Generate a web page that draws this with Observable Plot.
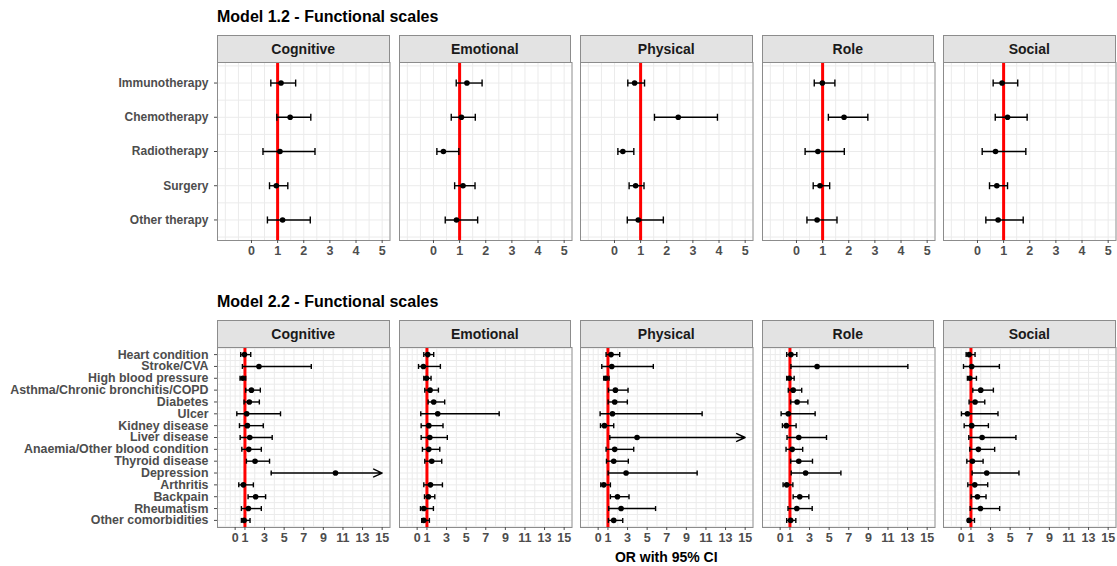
<!DOCTYPE html>
<html><head><meta charset="utf-8">
<script src="https://cdn.jsdelivr.net/npm/d3@7"></script>
<script src="https://cdn.jsdelivr.net/npm/@observablehq/plot@0.6"></script>
<style>
body{margin:0;background:#fff;font-family:"Liberation Sans",Arial,sans-serif;}
#chart{position:relative;width:1117px;height:566px;overflow:hidden;background:#fff;}
.title{position:absolute;font-weight:bold;font-size:16px;color:#000;white-space:nowrap;}
.xtitle{position:absolute;font-weight:bold;font-size:14px;color:#000;white-space:nowrap;}
.strip{position:absolute;box-sizing:border-box;background:#e3e3e3;border:1px solid #8c8c8c;font-weight:bold;font-size:14px;color:#1a1a1a;display:flex;align-items:center;justify-content:center;}
.panel{position:absolute;}
</style></head><body><div id="chart"></div><script>
// ---- data ----
const scales = ["Cognitive", "Emotional", "Physical", "Role", "Social"];
const treatments = ["Immunotherapy", "Chemotherapy", "Radiotherapy", "Surgery", "Other therapy"];
const comorbidities = ["Heart condition", "Stroke/CVA", "High blood pressure", "Asthma/Chronic bronchitis/COPD", "Diabetes", "Ulcer", "Kidney disease", "Liver disease", "Anaemia/Other blood condition", "Thyroid disease", "Depression", "Arthritis", "Backpain", "Rheumatism", "Other comorbidities"];
const topTicks = [0, 1, 2, 3, 4, 5];
const bottomTicks = [0, 1, 3, 5, 7, 9, 11, 13, 15];

// rows: [OR, lower 95% CI, upper 95% CI]
const m1Cognitive = [[1.13,0.74,1.69],[1.48,0.97,2.27],[1.09,0.44,2.43],[0.95,0.69,1.39],[1.19,0.61,2.25]];
const m1Emotional = [[1.28,0.87,1.86],[1.07,0.68,1.60],[0.38,0.13,0.97],[1.13,0.81,1.59],[0.88,0.45,1.69]];
const m1Physical  = [[0.77,0.51,1.15],[2.44,1.53,3.94],[0.32,0.13,0.74],[0.81,0.56,1.13],[0.91,0.49,1.87]];
const m1Role      = [[0.99,0.68,1.47],[1.82,1.22,2.73],[0.82,0.33,1.83],[0.90,0.64,1.27],[0.79,0.40,1.55]];
const m1Social    = [[0.94,0.60,1.54],[1.15,0.68,1.90],[0.69,0.18,1.85],[0.74,0.46,1.15],[0.79,0.32,1.75]];

const m2Cognitive = [[0.95,0.57,1.59],[2.43,0.74,7.77],[0.78,0.50,1.08],[1.66,1.08,2.57],[1.45,0.91,2.47],[1.18,0.17,4.63],[1.25,0.44,2.87],[1.49,0.51,3.78],[1.39,0.68,2.67],[2.03,1.15,3.51],[10.24,3.68,17.5],[0.84,0.37,1.86],[2.09,1.32,3.11],[1.35,0.64,2.67],[0.91,0.64,1.52]];
const m2Emotional = [[1.08,0.68,1.69],[0.64,0.14,2.37],[0.95,0.68,1.42],[1.32,0.78,2.17],[1.69,1.12,2.81],[2.10,0.37,8.37],[1.19,0.41,2.64],[1.29,0.41,3.08],[1.19,0.54,2.31],[1.49,0.78,2.51],null,[1.36,0.68,2.58],[1.15,0.75,1.80],[0.68,0.34,1.66],[0.68,0.47,1.25]];
const m2Physical  = [[1.32,0.81,2.20],[1.39,0.37,5.63],[0.78,0.58,1.12],[1.76,1.05,3.05],[1.69,1.02,2.98],[1.46,0.20,10.61],[0.64,0.24,1.59],[3.97,1.19,16.5],[1.69,0.81,3.63],[1.59,0.85,3.08],[2.85,1.02,10.10],[0.58,0.27,1.25],[1.97,1.25,3.15],[2.34,1.08,5.86],[1.59,1.05,2.51]];
const m2Role      = [[1.10,0.67,1.70],[3.77,1.10,13.03],[0.93,0.67,1.43],[1.33,0.83,2.20],[1.73,1.07,2.83],[0.83,0.10,3.57],[0.63,0.23,1.63],[1.90,0.70,4.73],[1.23,0.60,2.30],[1.90,1.07,3.30],[2.60,1.13,6.20],[0.67,0.30,1.30],[2.00,1.33,2.93],[1.70,0.80,3.27],[1.07,0.67,1.60]];
const m2Social    = [[0.81,0.51,1.42],[1.08,0.24,3.90],[0.88,0.64,1.56],[2.00,1.19,3.29],[1.42,0.81,2.41],[0.64,0.03,3.76],[1.08,0.31,2.78],[2.14,0.78,5.59],[1.76,0.88,3.42],[1.15,0.58,2.24],[2.61,1.12,5.90],[1.39,0.68,2.71],[1.66,1.02,2.54],[1.97,0.92,3.93],[0.81,0.68,1.36]];

const model1 = [m1Cognitive, m1Emotional, m1Physical, m1Role, m1Social];
const model2 = [m2Cognitive, m2Emotional, m2Physical, m2Role, m2Social];

// ---- drawing ----
const FONT = '"Liberation Sans", Arial, sans-serif';
const chart = document.getElementById("chart");
const capSymbol = {draw(ctx, size) { const r = Math.sqrt(size / Math.PI); ctx.moveTo(0, -r); ctx.lineTo(0, r); }};

function addDiv(cls, text, style) {
  const d = document.createElement("div");
  d.className = cls; d.textContent = text;
  Object.assign(d.style, style);
  chart.appendChild(d);
}

function panel({rows, cats, x0, y0, w, h, domain, ticks, grid, first, capR, maxX, yFont}) {
  const n = cats.length;
  const ml = first ? x0 : 6, mr = 6, mt = 2, mb = 28;
  const data = rows.map((r, i) => r ? {i, or: r[0], lo: r[1], hi: r[2]} : null).filter(d => d);
  const inside = data.filter(d => d.hi <= maxX);
  const over = data.filter(d => d.hi > maxX);
  const hgrid = d3.range(-0.5, n, 0.5);
  const svg = Plot.plot({
    width: ml + w + mr, height: mt + h + mb,
    marginLeft: ml, marginRight: mr, marginTop: mt, marginBottom: mb,
    style: {fontFamily: FONT, background: "transparent", overflow: "visible"},
    x: {domain, label: null},
    y: {domain: [-0.6, n - 0.4], reverse: true, label: null, axis: first ? undefined : null},
    marks: [
      Plot.ruleY(hgrid, {stroke: "#ebebeb", strokeWidth: 1}),
      Plot.ruleX(grid, {stroke: "#ebebeb", strokeWidth: 1}),
      Plot.ruleX([1], {stroke: "#ff0000", strokeWidth: 3}),
      Plot.link(inside, {x1: "lo", x2: "hi", y1: "i", y2: "i", stroke: "black", strokeWidth: 1.4}),
      Plot.dot(inside, {x: "lo", y: "i", symbol: capSymbol, r: capR, stroke: "black", fill: "none", strokeWidth: 1.4}),
      Plot.dot(inside, {x: "hi", y: "i", symbol: capSymbol, r: capR, stroke: "black", fill: "none", strokeWidth: 1.4}),
      Plot.arrow(over, {x1: "lo", x2: () => maxX, y1: "i", y2: "i", stroke: "black", strokeWidth: 1.4, headLength: 10, headAngle: 50}),
      Plot.dot(over, {x: "lo", y: "i", symbol: capSymbol, r: capR, stroke: "black", fill: "none", strokeWidth: 1.4}),
      Plot.dot(data, {x: "or", y: "i", r: 2.8, fill: "black"}),
      Plot.frame({stroke: "#8c8c8c", strokeWidth: 1}),
      Plot.axisX({ticks, tickFormat: d => String(d), tickSize: 3, tickPadding: 3, fontSize: 12.5, fontWeight: "bold", color: "#4d4d4d", label: null}),
      first ? Plot.axisY({ticks: d3.range(n), tickFormat: i => cats[i], tickSize: 3, tickPadding: 6, fontSize: yFont, fontWeight: "bold", color: "#4d4d4d", label: null}) : null
    ]
  });
  svg.classList.add("panel");
  svg.style.left = (x0 - ml) + "px";
  svg.style.top = (y0 - mt) + "px";
  chart.appendChild(svg);
}

const panelW = 172.5, panelStep = 181.5, firstX = 217;
const topGrid = d3.range(-1, 5.01, 0.5);
const bottomGrid = [-1, -0.5, 0, 0.5].concat(d3.range(1, 15.01, 1));

addDiv("title", "Model 1.2 - Functional scales", {left: "217px", top: "8px"});
addDiv("title", "Model 2.2 - Functional scales", {left: "217px", top: "293px"});

scales.forEach((s, k) => {
  const x0 = firstX + k * panelStep;
  addDiv("strip", s, {left: x0 + "px", top: "35px", width: panelW + "px", height: "28px"});
  addDiv("strip", s, {left: x0 + "px", top: "320px", width: panelW + "px", height: "28px"});
  panel({rows: model1[k], cats: treatments, x0, y0: 62, w: panelW, h: 178, domain: [-1.3, 5.3], ticks: topTicks, grid: topGrid, first: k === 0, capR: 3.5, maxX: 5, yFont: 12});
  panel({rows: model2[k], cats: comorbidities, x0, y0: 347, w: panelW, h: 180, domain: [-1.8, 15.8], ticks: bottomTicks, grid: bottomGrid, first: k === 0, capR: 2.5, maxX: 15, yFont: 12.4});
});

addDiv("xtitle", "OR with 95% CI", {left: "0px", width: (2 * firstX + 5 * panelW + 4 * (panelStep - panelW)) + "px", textAlign: "center", top: "549px"});
</script></body></html>
